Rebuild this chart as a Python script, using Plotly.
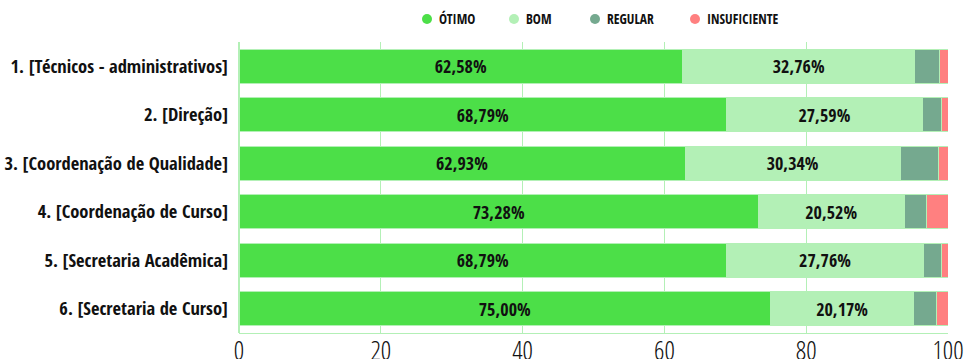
import plotly.graph_objects as go

categories = [
    "1. [Técnicos - administrativos]",
    "2. [Direção]",
    "3. [Coordenação de Qualidade]",
    "4. [Coordenação de Curso]",
    "5. [Secretaria Acadêmica]",
    "6. [Secretaria de Curso]",
]
otimo = [62.58, 68.79, 62.93, 73.28, 68.79, 75.00]
bom = [32.76, 27.59, 30.34, 20.52, 27.76, 20.17]
regular = [3.45, 2.76, 5.43, 3.19, 2.59, 3.20]
insuficiente = [1.21, 0.86, 1.30, 3.01, 0.86, 1.63]
x_ticks = [0, 20, 40, 60, 80, 100]

series_names = ["ÓTIMO", "BOM", "REGULAR", "INSUFICIENTE"]
series_values = [otimo, bom, regular, insuficiente]
series_colors = ["#4cdf48", "#b3f0b6", "#75a98f", "#ff8080"]
series_labelled = [True, True, False, False]

BOLD = "Open Sans Condensed, Liberation Sans Narrow, sans-serif"
LIGHT = "Open Sans Condensed Light, Liberation Sans Narrow, sans-serif"
EDGE = "#b3f0b6"

W, H = 970, 359
M = dict(l=239, r=22, t=42, b=26)


def pct(v):
    return f"{v:.2f}".replace(".", ",") + "%"


fig = go.Figure()
for name, vals, color, labelled in zip(series_names, series_values,
                                       series_colors, series_labelled):
    fig.add_trace(go.Bar(
        name=name,
        y=categories,
        x=vals,
        orientation="h",
        marker=dict(color=color, line=dict(color=EDGE, width=1)),
        text=[pct(v) for v in vals] if labelled else None,
        textposition="inside" if labelled else "none",
        insidetextanchor="middle",
        textangle=0,
        textfont=dict(family=BOLD, size=18, color="#111111"),
        hovertemplate="%{y}<br>" + name + ": %{x:.2f}%<extra></extra>",
        showlegend=False,
    ))

# Legend row above the plot: dot + bold caption per series
plot_w = W - M["l"] - M["r"]
plot_h = H - M["t"] - M["b"]
legend_y = (H - M["b"] - 19) / plot_h
legend_dot_px = [427, 514, 595, 695]
for name, color, px in zip(series_names, series_colors, legend_dot_px):
    xp = (px - M["l"]) / plot_w
    fig.add_shape(
        type="circle", xref="paper", yref="paper",
        xsizemode="pixel", ysizemode="pixel",
        xanchor=xp, yanchor=legend_y,
        x0=-5, x1=5, y0=-5, y1=5,
        fillcolor=color, line=dict(width=0),
    )
    fig.add_annotation(
        x=xp, y=legend_y, xref="paper", yref="paper",
        xshift=10, xanchor="left", yanchor="middle",
        text=name, showarrow=False,
        font=dict(family=BOLD, size=13.5, color="#111111"),
    )

fig.update_layout(
    barmode="stack",
    bargap=0.29,
    width=W,
    height=H,
    margin=M,
    plot_bgcolor="white",
    paper_bgcolor="white",
    font=dict(family=BOLD, color="#111111"),
    showlegend=False,
)
fig.update_xaxes(
    range=[0, 100],
    tickvals=x_ticks,
    showgrid=True,
    gridcolor=EDGE,
    gridwidth=1,
    zeroline=True,
    zerolinecolor=EDGE,
    showline=True,
    linecolor=EDGE,
    tickfont=dict(family=LIGHT, size=26, color="#111111"),
    ticks="",
    ticklabelstandoff=-5,
    automargin=False,
    fixedrange=True,
)
fig.update_yaxes(
    autorange="reversed",
    showgrid=False,
    tickfont=dict(family=BOLD, size=18.5, color="#111111"),
    ticklabelstandoff=10,
    automargin=False,
    fixedrange=True,
)

fig.write_html("out.html")
